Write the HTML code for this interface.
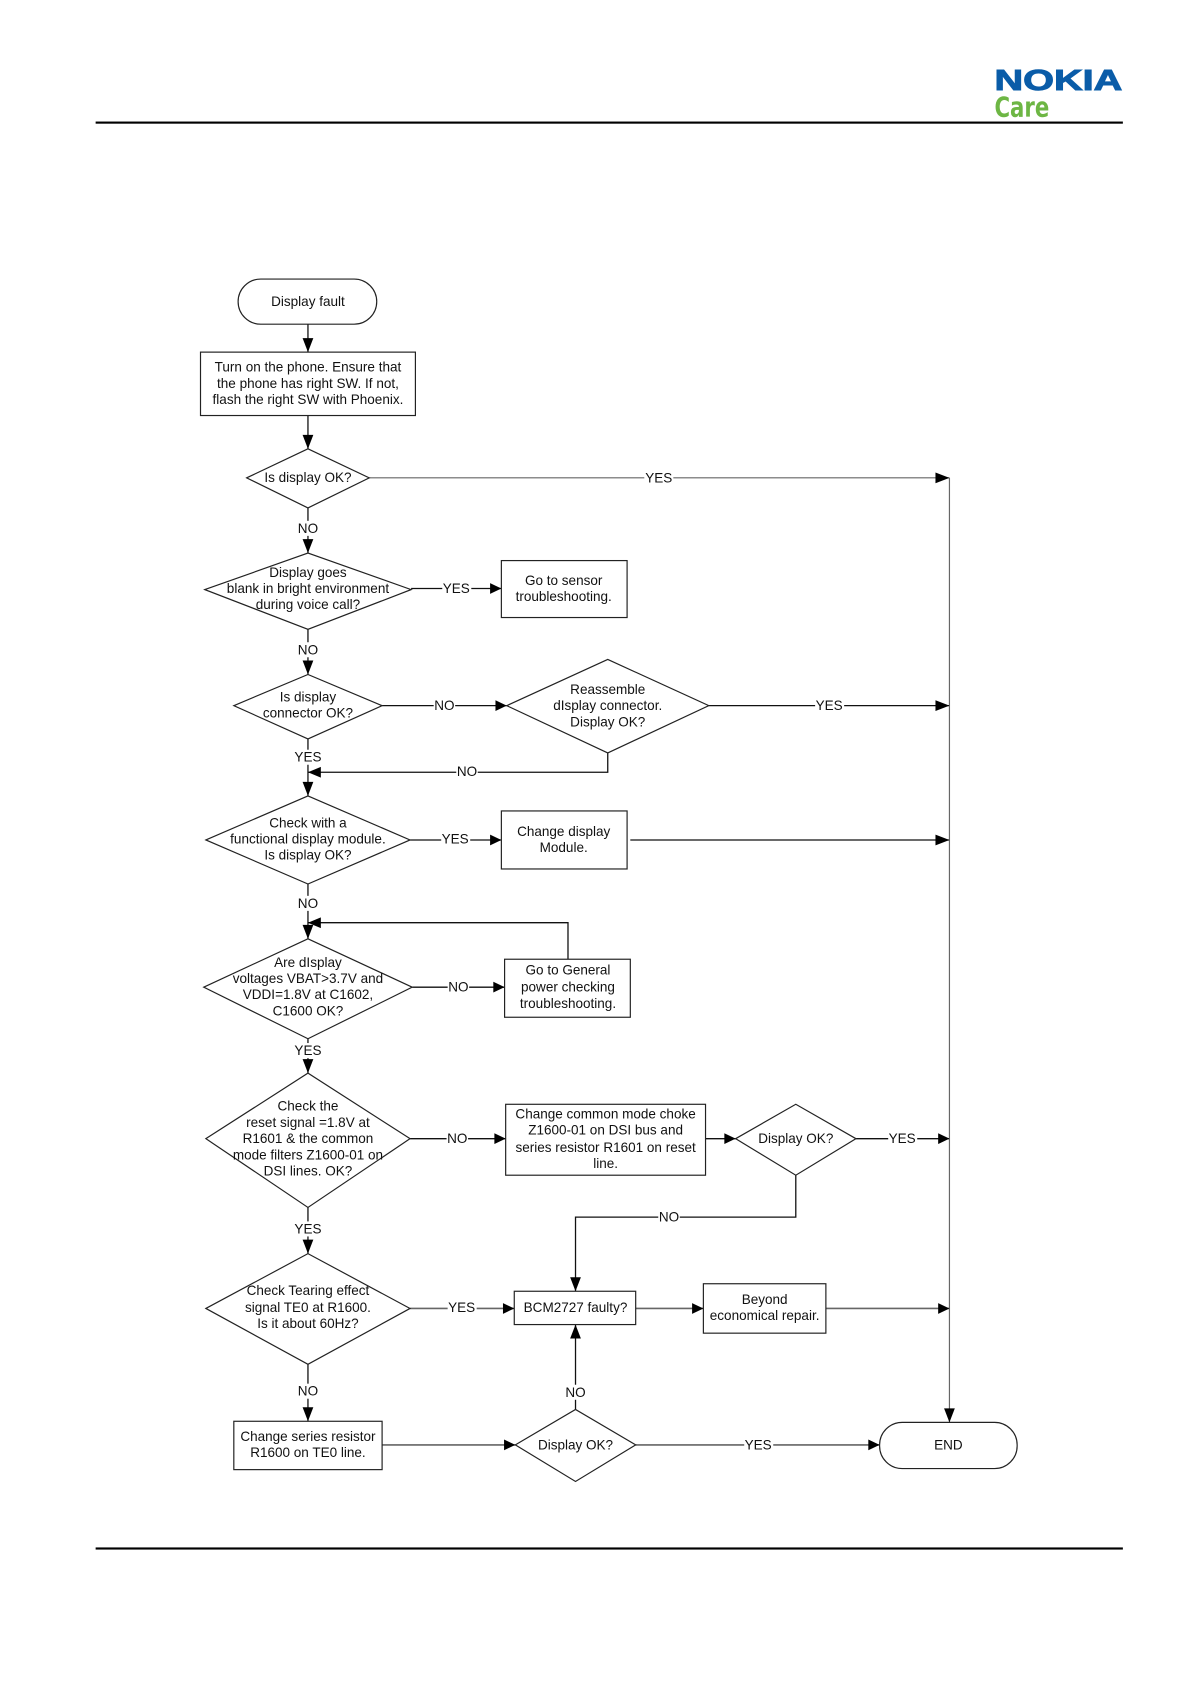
<!DOCTYPE html>
<html><head><meta charset="utf-8"><style>
html,body{margin:0;padding:0;background:#fff;width:1191px;height:1684px;overflow:hidden}
svg{display:block}
text{font-family:"Liberation Sans",Arial,sans-serif;font-size:12.6px;fill:#111;text-anchor:middle;dominant-baseline:central}
.s{fill:#fff;stroke:#222;stroke-width:1.1}
.l{fill:none;stroke:#111;stroke-width:1.2}
.g{fill:none;stroke:#666;stroke-width:1.1}
.h{fill:none;stroke:#666;stroke-width:1.5}
.a{fill:#000}
.b{fill:#fff}
</style></head><body>
<svg width="1191" height="1684" viewBox="0 0 1108.4 1567" xmlns="http://www.w3.org/2000/svg">
<defs>
<g id="ar"><path class="a" d="M0 0L-13-5V5Z"/></g>
<g id="as"><path class="a" d="M0 0L-10.500-5V5Z"/></g>
<g id="ad"><path class="a" d="M0 0L-5-13H5Z"/></g>
</defs>
<rect x="89" y="113" width="956" height="2" fill="#000"/>
<rect x="89" y="1440" width="956" height="2" fill="#000"/>
<text x="985" y="75.500" textLength="119" lengthAdjust="spacingAndGlyphs" style="font-size:27px;font-weight:bold;fill:#0a5ca8;stroke:#0a5ca8;stroke-width:.9">NOKIA</text>
<text x="951" y="100.500" textLength="51" lengthAdjust="spacingAndGlyphs" style="font-family:'DejaVu Sans',sans-serif;font-size:25.500px;font-weight:bold;fill:#6db644">Care</text>

<g transform="translate(-0.4 -0.4)">
<!-- connectors -->
<path class="l" d="M287 302V328M287 387V418M287 473V515M383 548H467M287 586V628M356 657H472M660 657H884M566 701V719H287M287 688V741M382 782H467M587 782H884M287 823V874M529 893V859H287M384 919H470M287 967V999M382 1060H471M657 1060H685M797 1060H884M741 1094V1133H536V1202M287 1124V1167M287 1270V1323M536 1312V1233"/>
<path class="g" d="M344 445H884M884 445V1324"/>
<path class="h" d="M382 1218H479M592 1218H655M769 1218H884M356 1345H480M592 1345H819"/>
<use href="#ad" x="287" y="328"/><use href="#ad" x="287" y="418"/><use href="#ar" x="884" y="445"/>
<use href="#ad" x="287" y="515"/><use href="#as" x="467" y="548"/><use href="#ad" x="287" y="628"/>
<use href="#as" x="472" y="657"/><use href="#ar" x="884" y="657"/><path class="a" d="M287 719L299 714V724Z"/>
<use href="#ad" x="287" y="741"/><use href="#as" x="467" y="782"/><use href="#ar" x="884" y="782"/>
<use href="#ad" x="287" y="874"/><path class="a" d="M287 859L299 854V864Z"/>
<use href="#as" x="470" y="919"/><use href="#ad" x="287" y="999"/><use href="#as" x="471" y="1060"/>
<use href="#as" x="685" y="1060"/><use href="#as" x="884" y="1060"/><use href="#ad" x="536" y="1202"/>
<use href="#ad" x="287" y="1167"/><use href="#as" x="479" y="1218"/><use href="#as" x="655" y="1218"/>
<use href="#as" x="884" y="1218"/><use href="#ad" x="287" y="1323"/><use href="#as" x="480" y="1345"/>
<path class="a" d="M536 1233L531 1246H541Z"/><use href="#as" x="819" y="1345"/><use href="#ad" x="884" y="1324"/>

<!-- nodes -->
<rect class="s" x="222" y="260" width="129" height="42" rx="21"/>
<rect class="s" x="187" y="328" width="200" height="59"/>
<path class="s" d="M230 445L287 418L344 445L287 473Z"/>
<path class="s" d="M191 549L287 515L383 549L287 586Z"/>
<rect class="s" x="467" y="522" width="117" height="53"/>
<path class="s" d="M218 657L287 628L356 657L287 688Z"/>
<path class="s" d="M472 657L566 614L660 657L566 701Z"/>
<path class="s" d="M192 782L287 741L382 782L287 823Z"/>
<rect class="s" x="467" y="755" width="117" height="54"/>
<path class="s" d="M190 919L287 874L384 919L287 967Z"/>
<rect class="s" x="470" y="893" width="117" height="54"/>
<path class="s" d="M192 1060L287 999L382 1060L287 1124Z"/>
<rect class="s" x="471" y="1028" width="186" height="66"/>
<path class="s" d="M685 1060L741 1028L797 1060L741 1094Z"/>
<path class="s" d="M192 1218L287 1167L382 1218L287 1270Z"/>
<rect class="s" x="479" y="1202" width="113" height="31"/>
<rect class="s" x="655" y="1195" width="114" height="46"/>
<rect class="s" x="218" y="1323" width="138" height="45"/>
<path class="s" d="M480 1345L536 1312L592 1345L536 1379Z"/>
<rect class="s" x="819" y="1324" width="128" height="43" rx="21"/>

<!-- node text -->
<text x="287" y="281">Display fault</text>
<text x="287" y="342">Turn on the phone. Ensure that</text>
<text x="287" y="357">the phone has right SW. If not,</text>
<text x="287" y="372">flash the right SW with Phoenix.</text>
<text x="287" y="444.500">Is display OK?</text>
<text x="287" y="533">Display goes</text>
<text x="287" y="548">blank in bright environment</text>
<text x="287" y="563">during voice call?</text>
<text x="525" y="540.500">Go to sensor</text>
<text x="525" y="555.500">troubleshooting.</text>
<text x="287" y="649">Is display</text>
<text x="287" y="664">connector OK?</text>
<text x="566" y="642">Reassemble</text>
<text x="566" y="657">dIsplay connector.</text>
<text x="566" y="672">Display OK?</text>
<text x="287" y="766">Check with a</text>
<text x="287" y="781">functional display module.</text>
<text x="287" y="796">Is display OK?</text>
<text x="525" y="774">Change display</text>
<text x="525" y="789">Module.</text>
<text x="287" y="896">Are dIsplay</text>
<text x="287" y="911">voltages VBAT&gt;3.7V and</text>
<text x="287" y="926">VDDI=1.8V at C1602,</text>
<text x="287" y="941">C1600 OK?</text>
<text x="529" y="903">Go to General</text>
<text x="529" y="919">power checking</text>
<text x="529" y="934">troubleshooting.</text>
<text x="287" y="1029.500">Check the</text>
<text x="287" y="1045">reset signal =1.8V at</text>
<text x="287" y="1060">R1601 &amp; the common</text>
<text x="287" y="1075">mode filters Z1600-01 on</text>
<text x="287" y="1090">DSI lines. OK?</text>
<text x="564" y="1037">Change common mode choke</text>
<text x="564" y="1052">Z1600-01 on DSI bus and</text>
<text x="564" y="1068">series resistor R1601 on reset</text>
<text x="564" y="1083">line.</text>
<text x="741" y="1060">Display OK?</text>
<text x="287" y="1201.500">Check Tearing effect</text>
<text x="287" y="1217">signal TE0 at R1600.</text>
<text x="287" y="1232">Is it about 60Hz?</text>
<text x="536" y="1217">BCM2727 faulty?</text>
<text x="712" y="1209.500">Beyond</text>
<text x="712" y="1224.500">economical repair.</text>
<text x="287" y="1337">Change series resistor</text>
<text x="287" y="1352">R1600 on TE0 line.</text>
<text x="536" y="1345">Display OK?</text>
<text x="883" y="1345">END</text>

<!-- connector labels -->
<rect class="b" x="600" y="438" width="27" height="14"/><text x="613.500" y="445">YES</text>
<rect class="b" x="277" y="485" width="20" height="14"/><text x="287" y="492">NO</text>
<rect class="b" x="412" y="541" width="27" height="14"/><text x="425" y="548">YES</text>
<rect class="b" x="277" y="598" width="20" height="14"/><text x="287" y="605">NO</text>
<rect class="b" x="404" y="650" width="20" height="14"/><text x="414" y="657">NO</text>
<rect class="b" x="759" y="650" width="27" height="14"/><text x="772" y="657">YES</text>
<rect class="b" x="425" y="712" width="20" height="14"/><text x="435" y="718.500">NO</text>
<rect class="b" x="274" y="698" width="27" height="14"/><text x="287" y="705">YES</text>
<rect class="b" x="411" y="774" width="27" height="14"/><text x="424" y="781">YES</text>
<rect class="b" x="277" y="834" width="20" height="14"/><text x="287" y="841">NO</text>
<rect class="b" x="417" y="912" width="20" height="14"/><text x="427" y="919">NO</text>
<rect class="b" x="274" y="971" width="27" height="14"/><text x="287" y="978">YES</text>
<rect class="b" x="416" y="1053" width="20" height="14"/><text x="426" y="1060">NO</text>
<rect class="b" x="827" y="1053" width="27" height="14"/><text x="840" y="1060">YES</text>
<rect class="b" x="613" y="1126" width="20" height="14"/><text x="623" y="1133">NO</text>
<rect class="b" x="274" y="1137" width="27" height="14"/><text x="287" y="1144">YES</text>
<rect class="b" x="417" y="1210" width="27" height="14"/><text x="430" y="1217">YES</text>
<rect class="b" x="277" y="1288" width="20" height="14"/><text x="287" y="1295">NO</text>
<rect class="b" x="526" y="1289" width="20" height="14"/><text x="536" y="1296">NO</text>
<rect class="b" x="693" y="1338" width="27" height="14"/><text x="706" y="1345">YES</text>
</g>
</svg>
</body></html>
